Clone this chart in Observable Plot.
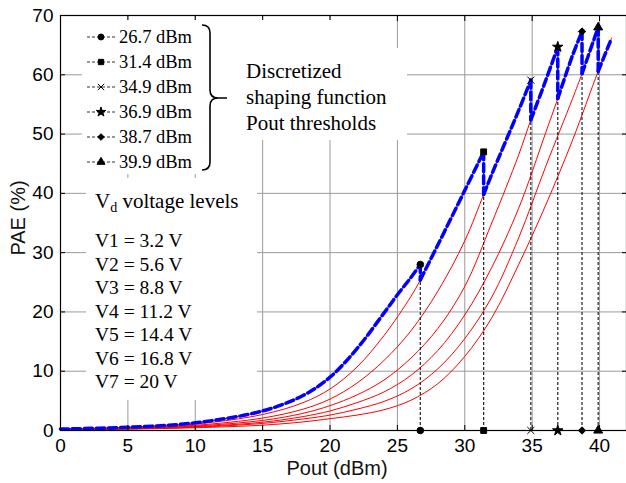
<!DOCTYPE html>
<html><head><meta charset="utf-8">
<script src="https://cdn.jsdelivr.net/npm/d3@7"></script>
<script src="https://cdn.jsdelivr.net/npm/@observablehq/plot@0.6"></script>
<style>html,body{margin:0;padding:0;background:#fff}#chart svg{display:block}</style>
</head><body><div id="chart"></div>
<script>
// ---- tick values ----
const xTicks = [0, 5, 10, 15, 20, 25, 30, 35, 40];
const yTicks = [0, 10, 20, 30, 40, 50, 60, 70];

// ---- PAE (%) vs Pout (dBm) for each drain voltage ----
const v1Pout = [0, 5, 10, 15, 18, 20, 22, 24, 25, 26, 26.7];
const v1Pae  = [0.25, 0.55, 1.3, 3.3, 5.9, 9.0, 13.8, 19.8, 22.9, 25.8, 28.0];
const v2Pout = [0, 5, 10, 15, 18, 20, 22, 24, 26, 26.7, 28, 30, 31.4];
const v2Pae  = [0.22, 0.47, 1.08, 2.7, 4.7, 7.0, 10.7, 16.0, 22.6, 25.4, 31.3, 40.5, 47.0];
const v3Pout = [0, 5, 10, 15, 18, 20, 22, 24, 26, 28, 30, 31.4, 32, 34, 34.9];
const v3Pae  = [0.2, 0.4, 0.88, 2.1, 3.6, 5.3, 8.0, 11.8, 16.8, 23.5, 32.0, 39.8, 43.2, 54.0, 59.1];
const v4Pout = [0, 5, 10, 15, 18, 20, 22, 24, 26, 28, 30, 32, 34, 34.9, 36, 36.9];
const v4Pae  = [0.17, 0.35, 0.75, 1.7, 2.9, 4.2, 6.0, 8.5, 12.2, 17.2, 24.3, 35.0, 46.5, 52.4, 59.0, 64.7];
const v5Pout = [0, 5, 10, 15, 18, 20, 22, 24, 26, 28, 30, 32, 34, 36, 36.9, 38, 38.7];
const v5Pae  = [0.15, 0.31, 0.64, 1.4, 2.35, 3.3, 4.7, 6.5, 9.3, 13.5, 19.5, 27.5, 37.5, 50.2, 56.0, 63.3, 67.3];
const v6Pout = [0, 5, 10, 15, 18, 20, 22, 24, 26, 28, 30, 32, 34, 36, 38, 38.7, 39.9];
const v6Pae  = [0.13, 0.27, 0.55, 1.2, 1.95, 2.6, 3.6, 4.9, 7.0, 10.4, 15.5, 22.5, 32.5, 44.5, 56.0, 60.2, 68.0];
const v7Pout = [0, 5, 10, 15, 18, 20, 22, 24, 26, 28, 30, 32, 34, 36, 38, 39.9, 40.9];
const v7Pae  = [0.11, 0.23, 0.46, 0.9, 1.45, 2.0, 2.6, 3.5, 5.1, 7.9, 12.5, 19.0, 28.0, 38.0, 49.0, 60.6, 66.2];

// ---- discretized shaping function Pout thresholds ----
const thresholds = [26.7, 31.4, 34.9, 36.9, 38.7, 39.9];
const thresholdLabels = ["26.7 dBm", "31.4 dBm", "34.9 dBm", "36.9 dBm", "38.7 dBm", "39.9 dBm"];
const thresholdSymbols = ["circle", "square", "times", "star", "diamond2", "triangle"];
const shapingText = ["Discretized", "shaping function", "Pout thresholds"];
const voltageLabels = ["V1 = 3.2 V", "V2 = 5.6 V", "V3 = 8.8 V", "V4 = 11.2 V", "V5 = 14.4 V", "V6 = 16.8 V", "V7 = 20 V"];

// ---- build tables ----
const curves = [[v1Pout, v1Pae], [v2Pout, v2Pae], [v3Pout, v3Pae], [v4Pout, v4Pae],
                [v5Pout, v5Pae], [v6Pout, v6Pae], [v7Pout, v7Pae]];
const valueAt = (k, x) => { const [px, py] = curves[k]; return py[px.indexOf(x)]; };
const redData = curves.flatMap(([px, py], k) => px.map((x, i) => ({x, y: py[i], id: k})));
const blueData = [];
curves.forEach(([px, py], k) => {
  const lo = k === 0 ? -Infinity : thresholds[k - 1];
  const hi = k < thresholds.length ? thresholds[k] : Infinity;
  px.forEach((x, i) => { if (x >= lo && x <= hi) blueData.push({x, y: py[i], seg: "c" + k}); });
  if (k < thresholds.length) {
    const t = thresholds[k];
    blueData.push({x: t, y: valueAt(k, t), seg: "d" + k});
    blueData.push({x: t, y: valueAt(k + 1, t), seg: "d" + k});
  }
});
const markers = thresholds.map((t, k) => ({x: t, top: valueAt(k, t), sym: thresholdSymbols[k]}));

const grid = "#9a9a9a";
const tickFont = 19;
const chart = Plot.plot({
  width: 626, height: 483,
  marginTop: 15, marginLeft: 60, marginRight: 0, marginBottom: 53,
  x: {domain: [0, 42]},
  y: {domain: [0, 70]},
  style: {fontFamily: "'Liberation Sans', Arial, sans-serif", fontSize: "19px", background: "white", color: "black"},
  marks: [
    Plot.ruleX(xTicks.filter(d => d > 0), {stroke: grid, strokeWidth: 1}),
    Plot.ruleY(yTicks.filter(d => d > 0), {stroke: grid, strokeWidth: 1}),
    Plot.line(redData, {x: "x", y: "y", z: "id", stroke: "#ff0000", strokeWidth: 1, curve: "catmull-rom"}),
    Plot.ruleX(markers, {x: "x", y1: 0, y2: "top", stroke: "#222", strokeWidth: 1.2, strokeDasharray: "3,2"}),
    Plot.line(blueData, {x: "x", y: "y", z: "seg", stroke: "#0000ff", strokeWidth: 3.5, strokeDasharray: "8,4", curve: "catmull-rom"}),
    Plot.dot(markers, {x: "x", y: "top", symbol: "sym", fill: "black", stroke: "black", strokeWidth: 1, r: 3.3}),
    Plot.dot(markers, {x: "x", y: 0, symbol: "sym", fill: "black", stroke: "black", strokeWidth: 1, r: 3.3}),
    Plot.frame({stroke: "black", strokeWidth: 1.2}),
    Plot.axisX(xTicks, {anchor: "bottom", tickSize: 0, tickPadding: 8, fontSize: tickFont, label: null}),
    Plot.axisX(xTicks, {anchor: "bottom", tickSize: -5, tickFormat: () => "", label: null}),
    Plot.axisX(xTicks, {anchor: "top", tickSize: -5, tickFormat: () => "", label: null}),
    Plot.axisY(yTicks, {anchor: "left", tickSize: 0, tickPadding: 7, fontSize: tickFont, label: null}),
    Plot.axisY(yTicks, {anchor: "left", tickSize: -5, tickFormat: () => "", label: null}),
    Plot.axisY(yTicks, {anchor: "right", tickSize: -5, tickFormat: () => "", label: null})
  ]
});
document.getElementById("chart").appendChild(chart);

// ---- annotations ----
const svg = d3.select(chart);
const ann = svg.append("g")
  .attr("font-family", "'Liberation Serif', 'Times New Roman', serif")
  .attr("text-anchor", "start").attr("fill", "black");
ann.append("rect").attr("x", 82).attr("y", 20).attr("width", 158).attr("height", 154).attr("fill", "white");
ann.append("rect").attr("x", 240).attr("y", 48).attr("width", 167).attr("height", 92).attr("fill", "white");
ann.append("rect").attr("x", 240).attr("y", 20).attr("width", 150).attr("height", 30).attr("fill", "white");
ann.append("rect").attr("x", 86).attr("y", 178).attr("width", 171).attr("height", 222).attr("fill", "white");

const symbolMap = {circle: d3.symbolCircle, square: d3.symbolSquare, times: d3.symbolTimes || d3.symbolX,
  star: d3.symbolStar, diamond2: d3.symbolDiamond2, triangle: d3.symbolTriangle};
thresholdLabels.forEach((lab, i) => {
  const y = 37 + i * 25;
  ann.append("line").attr("x1", 87).attr("x2", 115).attr("y1", y).attr("y2", y)
    .attr("stroke", "#333").attr("stroke-width", 1).attr("stroke-dasharray", "3,2");
  ann.append("path").attr("d", d3.symbol(symbolMap[thresholdSymbols[i]], 28)())
    .attr("transform", `translate(101,${y})`).attr("fill", "black").attr("stroke", "black").attr("stroke-width", 1);
  ann.append("text").attr("x", 119).attr("y", y + 6).attr("font-size", 18.5).text(lab);
});
ann.append("path")
  .attr("d", "M202,25 Q210,25 210,33 L210,90 Q210,98 218,98 L227,98 M218,98 Q210,98 210,106 L210,162 Q210,170 202,170")
  .attr("fill", "none").attr("stroke", "black").attr("stroke-width", 1.6);
shapingText.forEach((t, i) => {
  ann.append("text").attr("x", 246).attr("y", 78 + i * 26).attr("font-size", 21).text(t);
});
const vt = ann.append("text").attr("x", 95).attr("y", 208).attr("font-size", 21);
vt.append("tspan").text("V");
vt.append("tspan").attr("font-size", 14).attr("dy", 4).text("d");
vt.append("tspan").attr("dy", -4).text(" voltage levels");
voltageLabels.forEach((t, i) => {
  ann.append("text").attr("x", 95).attr("y", 247 + i * 23.5).attr("font-size", 19.5).text(t);
});

// axis titles
const sans = "'Liberation Sans', Arial, sans-serif";
svg.append("text").attr("x", 337).attr("y", 475).attr("text-anchor", "middle")
  .attr("font-family", sans).attr("font-size", 20).attr("fill", "#111").text("Pout (dBm)");
svg.append("text").attr("transform", "translate(25,218) rotate(-90)").attr("text-anchor", "middle")
  .attr("font-family", sans).attr("font-size", 20).attr("fill", "#111").text("PAE (%)");
</script>
</body></html>
